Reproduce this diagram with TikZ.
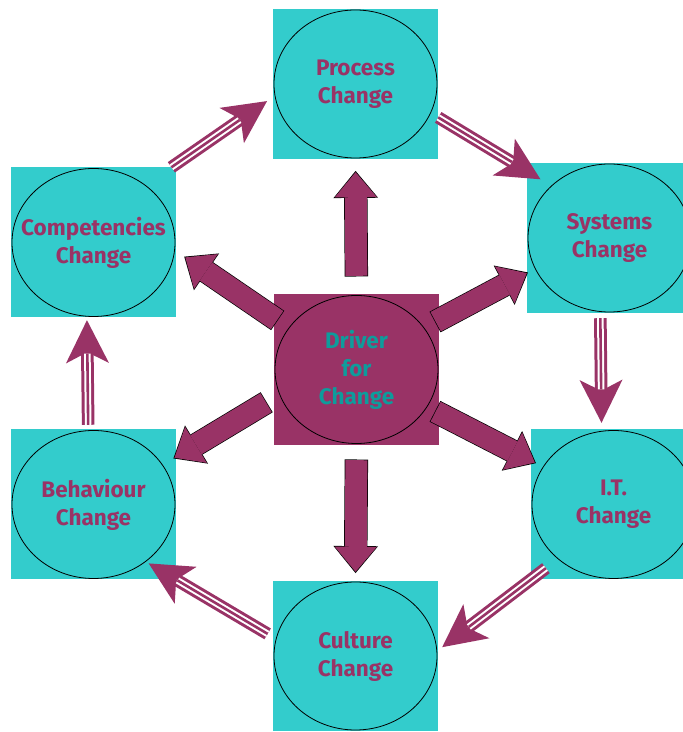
\documentclass[tikz,border=0pt]{standalone}
\usepackage{fontspec}
\setmainfont{Fira Sans}
\usetikzlibrary{arrows.meta}
\definecolor{boxteal}{HTML}{33CCCC}
\definecolor{plum}{HTML}{993366}
\definecolor{darkteal}{HTML}{0E9C9C}
\tikzset{
  change/.style={rectangle, fill=boxteal, minimum width=165pt, minimum height=150pt,
    inner sep=0pt, text=plum, align=center, font=\fontsize{22.5}{28}\selectfont\bfseries,
    path picture={\draw[line width=0.8pt] (path picture bounding box.center)
      ellipse [x radius=81.5pt, y radius=74pt];}},
  hub/.style={change, fill=plum, text=darkteal, minimum height=151pt},
  blockarrow/.style 2 args={draw=plum, line width=22pt, shorten <=#1, shorten >=#2,
    -{Triangle[length=25pt, width=42pt, line width=0pt]},
    preaction={draw=black, line width=23.4pt, shorten <={#1-0.7pt}, shorten >={#2-1.3pt},
      -{Triangle[length=27pt, width=44.6pt, line width=0pt]}}},
  tripleline/.style 2 args={draw=plum, line width=12.6pt, shorten <=#1, shorten >=#2,
    -{Stealth[length=43pt, width=43pt, inset=11pt, line width=0pt]},
    postaction={draw=white, line width=6.6pt, shorten >={#2+33.5pt}, arrows=-},
    postaction={draw=plum, line width=2.6pt, shorten >={#2+33.5pt}, arrows=-}}
}
\begin{document}
\begin{tikzpicture}[x=1pt, y=1pt]
      \useasboundingbox (0,0) rectangle (683,732);
      \node[change] (proc) at (355.5,648) {Process\\Change};
      \node[change] (comp) at (93.5,489.5) {Competencies\\Change};
      \node[change] (sys) at (609.5,494) {Systems\\Change};
      \node[change] (it) at (613.5,227.5) {I.T.\\Change};
      \node[change] (behav) at (93.5,227.5) {Behaviour\\Change};
      \node[change] (cult) at (355.5,76) {Culture\\Change};
      \node[hub] (hub) at (356.5,362.5) {Driver\\for\\Change};
      \draw[blockarrow={18pt}{13pt}] (hub.north) to (proc.south);
      \draw[blockarrow={15pt}{9pt}] (hub.south) to (cult.north);
      \draw[blockarrow={-4pt}{11pt}] (hub.148.2) to (comp.-6.5);
      \draw[blockarrow={9pt}{-2pt}] (hub.199.6) to (behav.30);
      \draw[blockarrow={-4pt}{0pt}] (hub.31.5) to (sys.203.6);
      \draw[blockarrow={-4pt}{-4.5pt}] (hub.-28.6) to (it.152.2);
      \draw[tripleline={0pt}{7pt}] (comp.44) to (proc.189.6);
      \draw[tripleline={0pt}{-16pt}] (proc.-22.8) to (sys.141.2);
      \draw[tripleline={5pt}{6.5pt}] (sys.263.9) to (it.99.1);
      \draw[tripleline={-19pt}{5pt}] (it.south west) to (cult.4.2);
      \draw[tripleline={6pt}{-32pt}] (cult.167.7) to (behav.south east);
      \draw[tripleline={4.5pt}{2.5pt}] (behav.94.2) to (comp.265.8);
    \end{tikzpicture}
\end{document}
